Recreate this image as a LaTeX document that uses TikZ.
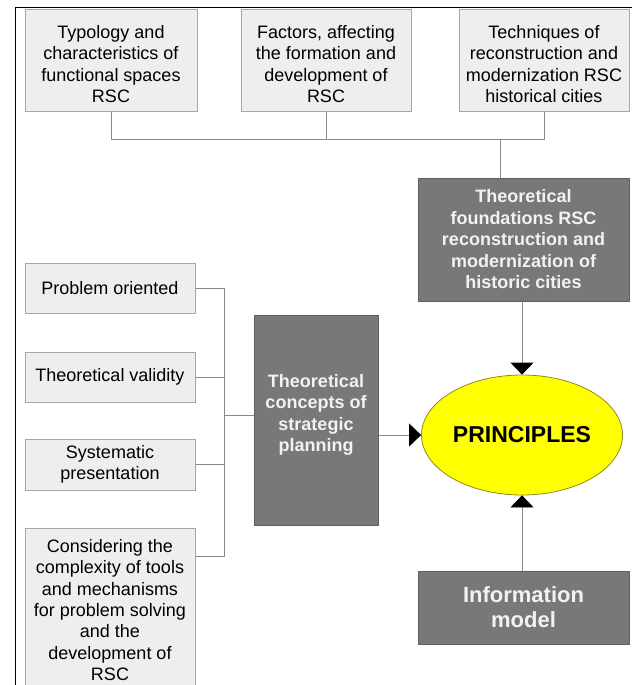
\documentclass[tikz,border=0pt]{standalone}
\usepackage{fontspec}
\setmainfont{Liberation Sans}
\usetikzlibrary{shapes.geometric,arrows.meta,calc}
\definecolor{lightfill}{HTML}{EEEEEE}
\definecolor{lightdraw}{HTML}{A6A6A6}
\definecolor{darkfill}{HTML}{787878}
\definecolor{darkdraw}{HTML}{5E5E5E}
\definecolor{darktext}{HTML}{F2F2F2}
\definecolor{connc}{HTML}{8A8A8A}
\definecolor{ellfill}{HTML}{FFFF00}
\definecolor{elldraw}{HTML}{8C8C1A}
\newcommand\mytopstrut{\rule{0pt}{20pt}}
\begin{document}
\begin{tikzpicture}[x=1pt,y=-1pt,
  lightbox/.style={draw=lightdraw, fill=lightfill, line width=1pt, align=center, inner sep=0pt,
    font=\fontsize{18}{21.3}\selectfont, text=black},
  darkbox/.style={draw=darkdraw, fill=darkfill, line width=1pt, align=center, inner sep=0pt,
    font=\fontsize{18}{21.5}\selectfont\bfseries, text=darktext},
  conn/.style={draw=connc, line width=0.8pt},
  arr/.style={conn, -{Triangle[length=12pt,width=23pt,color=black]}}
]
\useasboundingbox (0,0) rectangle (632,685);
\fill[white] (0,0) rectangle (632,685);
\draw[line width=1pt] (15,685) -- (15,8) -- (632,8);

% top row
\node[lightbox, minimum width=172pt, minimum height=101pt] (b1) at (111,60.5)
  {\mytopstrut Typology and\\characteristics of\\functional spaces\\RSC};
\node[lightbox, minimum width=170pt, minimum height=101pt] (b2) at (326,60.5)
  {\mytopstrut Factors, affecting\\the formation and\\development of\\RSC};
\node[lightbox, minimum width=170pt, minimum height=101pt] (b3) at (544,60.5)
  {\mytopstrut Techniques of\\reconstruction and\\modernization RSC\\historical cities};

\node[darkbox, minimum width=211pt, minimum height=123pt] (found) at (523.5,239.5)
  {Theoretical\\foundations RSC\\reconstruction and\\modernization of\\historic cities};

% left column
\node[lightbox, minimum width=170pt, minimum height=50pt] (po) at (110,288) {Problem oriented};
\node[lightbox, minimum width=170pt, minimum height=50pt] (tv) at (110,377) {Theoretical validity};
\node[lightbox, minimum width=170pt, minimum height=51pt] (sp) at (110,464.5) {Systematic\\presentation};
\node[lightbox, minimum width=170pt, minimum height=164pt] (cons) at (110,610)
  {Considering the\\complexity of tools\\and mechanisms\\for problem solving\\and the\\development of\\RSC};

% concepts
\node[darkbox, minimum width=124pt, minimum height=210pt] (conc) at (316,420.5) {};
\node[darkbox, draw=none, fill=none] (concT) at (316,415)
  {Theoretical\\concepts of\\strategic\\planning};

% principles
\node[ellipse, draw=elldraw, fill=ellfill, line width=0.8pt, minimum width=201pt, minimum height=120pt,
  inner sep=0pt, font=\fontsize{23}{26}\selectfont\bfseries, text=black] (ell) at (522,435) {PRINCIPLES};

\node[darkbox, minimum width=211pt, minimum height=73pt, font=\fontsize{22}{25}\selectfont\bfseries] (info) at (523.5,607.5)
  {Information\\model};

% connectors top
\draw[conn] (b1.south) -- ++(0,28) coordinate (jl) -| (b3.south);
\draw[conn] (b2.south) -- (b2.south |- jl);
\coordinate (jt) at (500,139);
\draw[conn] (jt) -- (jt |- found.north);

% connectors left
\coordinate (trunk) at (224,0);
\coordinate (ct) at ($(cons.north east)+(0,29)$);
\draw[conn] (po.east) -- (po.east -| trunk) -- (trunk |- ct) -- (ct);
\draw[conn] (tv.east) -- (tv.east -| trunk);
\draw[conn] (sp.east) -- (sp.east -| trunk);
\draw[conn] (trunk |- concT) -- (concT -| conc.west);

% arrows
\draw[arr] (ell.north |- found.south) -- (ell.north);
\draw[arr] (conc.east |- ell.west) -- (ell.west);
\draw[arr] (ell.south |- info.north) -- (ell.south);
\end{tikzpicture}
\end{document}
